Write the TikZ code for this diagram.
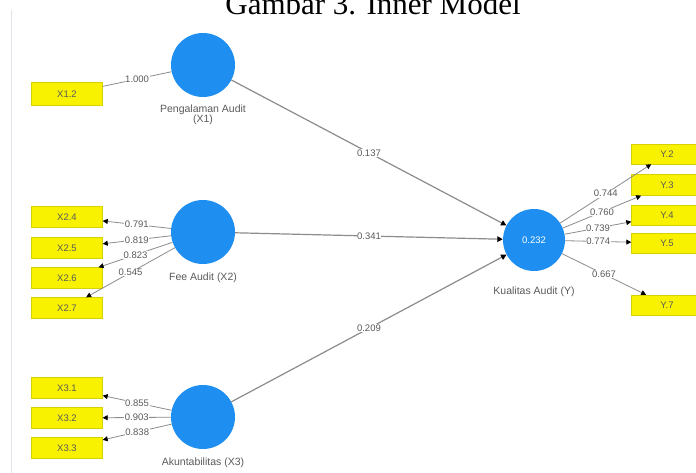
\documentclass[tikz,border=0pt]{standalone}
\usepackage{fontspec}
\setmainfont{Liberation Sans}
\newfontfamily\titlefont{Liberation Serif}
\usetikzlibrary{arrows.meta}
\definecolor{lvblue}{HTML}{1E8FF0}
\definecolor{indyellow}{HTML}{F8F200}
\definecolor{indborder}{HTML}{D8D000}
\definecolor{linegray}{HTML}{8C8C8C}
\definecolor{txtgray}{HTML}{5A5A5A}
\definecolor{frame}{HTML}{E2E2EA}
\tikzset{
  lv/.style={circle, fill=lvblue, minimum size=64pt, inner sep=0pt, text=white, font=\fontsize{9.5}{10}\selectfont},
  ind/.style={rectangle, fill=indyellow, draw=indborder, line width=0.4pt, minimum width=71pt, minimum height=21pt, inner sep=0pt, text=txtgray, font=\fontsize{9.5}{10}\selectfont},
  lvlabel/.style={text=txtgray, font=\fontsize{10.5}{10}\selectfont, align=center, inner sep=0pt},
  conn/.style={draw=linegray, line width=0.8pt, -{Triangle[length=5pt,width=5pt,color=black]}},
  plain/.style={draw=linegray, line width=0.8pt},
  inner/.style={draw=linegray, line width=1.2pt, -{Triangle[length=5.5pt,width=5.5pt,color=black]}},
  coef/.style={midway, fill=white, inner sep=0.6pt, text=txtgray, font=\fontsize{9.5}{9.5}\selectfont}
}
\begin{document}
\begin{tikzpicture}[x=1pt,y=-1pt]
\useasboundingbox (0,0) rectangle (696,473);
\clip (0,0) rectangle (696,473);
\fill[white] (0,0) rectangle (696,473);
% title (cut at top, as in the reference)
\node[anchor=base, inner sep=0pt, font=\titlefont\fontsize{31}{31}\selectfont] (title) at (373,15) {Gambar 3. Inner Model};
% frame line
\draw[frame, line width=0.8pt] (11,10) -- (11,473);
% latent variables
\node[lv] (X1) at (203,65) {};
\node[lv] (X2) at (203,232) {};
\node[lv] (X3) at (203,417) {};
\node[lv, minimum size=62pt] (Y) at (534,240) {0.232};
\node[lvlabel] (lX1) at (203,115) {Pengalaman Audit\\(X1)};
\node[lvlabel] (lX2) at (203,278) {Fee Audit (X2)};
\node[lvlabel] (lX3) at (203,463) {Akuntabilitas (X3)};
\node[lvlabel] (lY) at (534,292) {Kualitas Audit (Y)};
% indicators
\node[ind, minimum height=23pt] (x12) at (67,94) {X1.2};
\node[ind] (x24) at (67,217) {X2.4};
\node[ind] (x25) at (67,248) {X2.5};
\node[ind] (x26) at (67,278) {X2.6};
\node[ind] (x27) at (67,308) {X2.7};
\node[ind] (x31) at (67,388) {X3.1};
\node[ind] (x32) at (67,418) {X3.2};
\node[ind] (x33) at (67,448) {X3.3};
\node[ind, minimum height=20pt] (y2) at (667,154) {Y.2};
\node[ind, minimum height=21pt] (y3) at (667,185) {Y.3};
\node[ind, minimum height=20pt] (y4) at (667,215) {Y.4};
\node[ind, minimum height=20pt] (y5) at (667,243) {Y.5};
\node[ind, minimum height=20pt] (y7) at (667,305) {Y.7};
% outer model
\draw[plain] (X1) -- node[coef] {1.000} (x12);
\draw[conn] (X2) -- node[coef] {0.791} (x24);
\draw[conn] (X2) -- node[coef] {0.819} (x25);
\draw[conn] (X2) -- node[coef] {0.823} (x26);
\draw[conn] (X2) -- node[coef] {0.545} (x27);
\draw[conn] (X3) -- node[coef] {0.855} (x31);
\draw[conn] (X3) -- node[coef] {0.903} (x32);
\draw[conn] (X3) -- node[coef] {0.838} (x33);
\draw[conn] (Y) -- node[coef] {0.744} (y2);
\draw[conn] (Y) -- node[coef] {0.760} (y3);
\draw[conn] (Y) -- node[coef] {0.739} (y4);
\draw[conn] (Y) -- node[coef] {0.774} (y5);
\draw[conn] (Y) -- node[coef] {0.667} (y7);
% inner model
\draw[inner] (X1) -- node[coef] {0.137} (Y);
\draw[inner] (X2) -- node[coef] {0.341} (Y);
\draw[inner] (X3) -- node[coef] {0.209} (Y);
\end{tikzpicture}
\end{document}
